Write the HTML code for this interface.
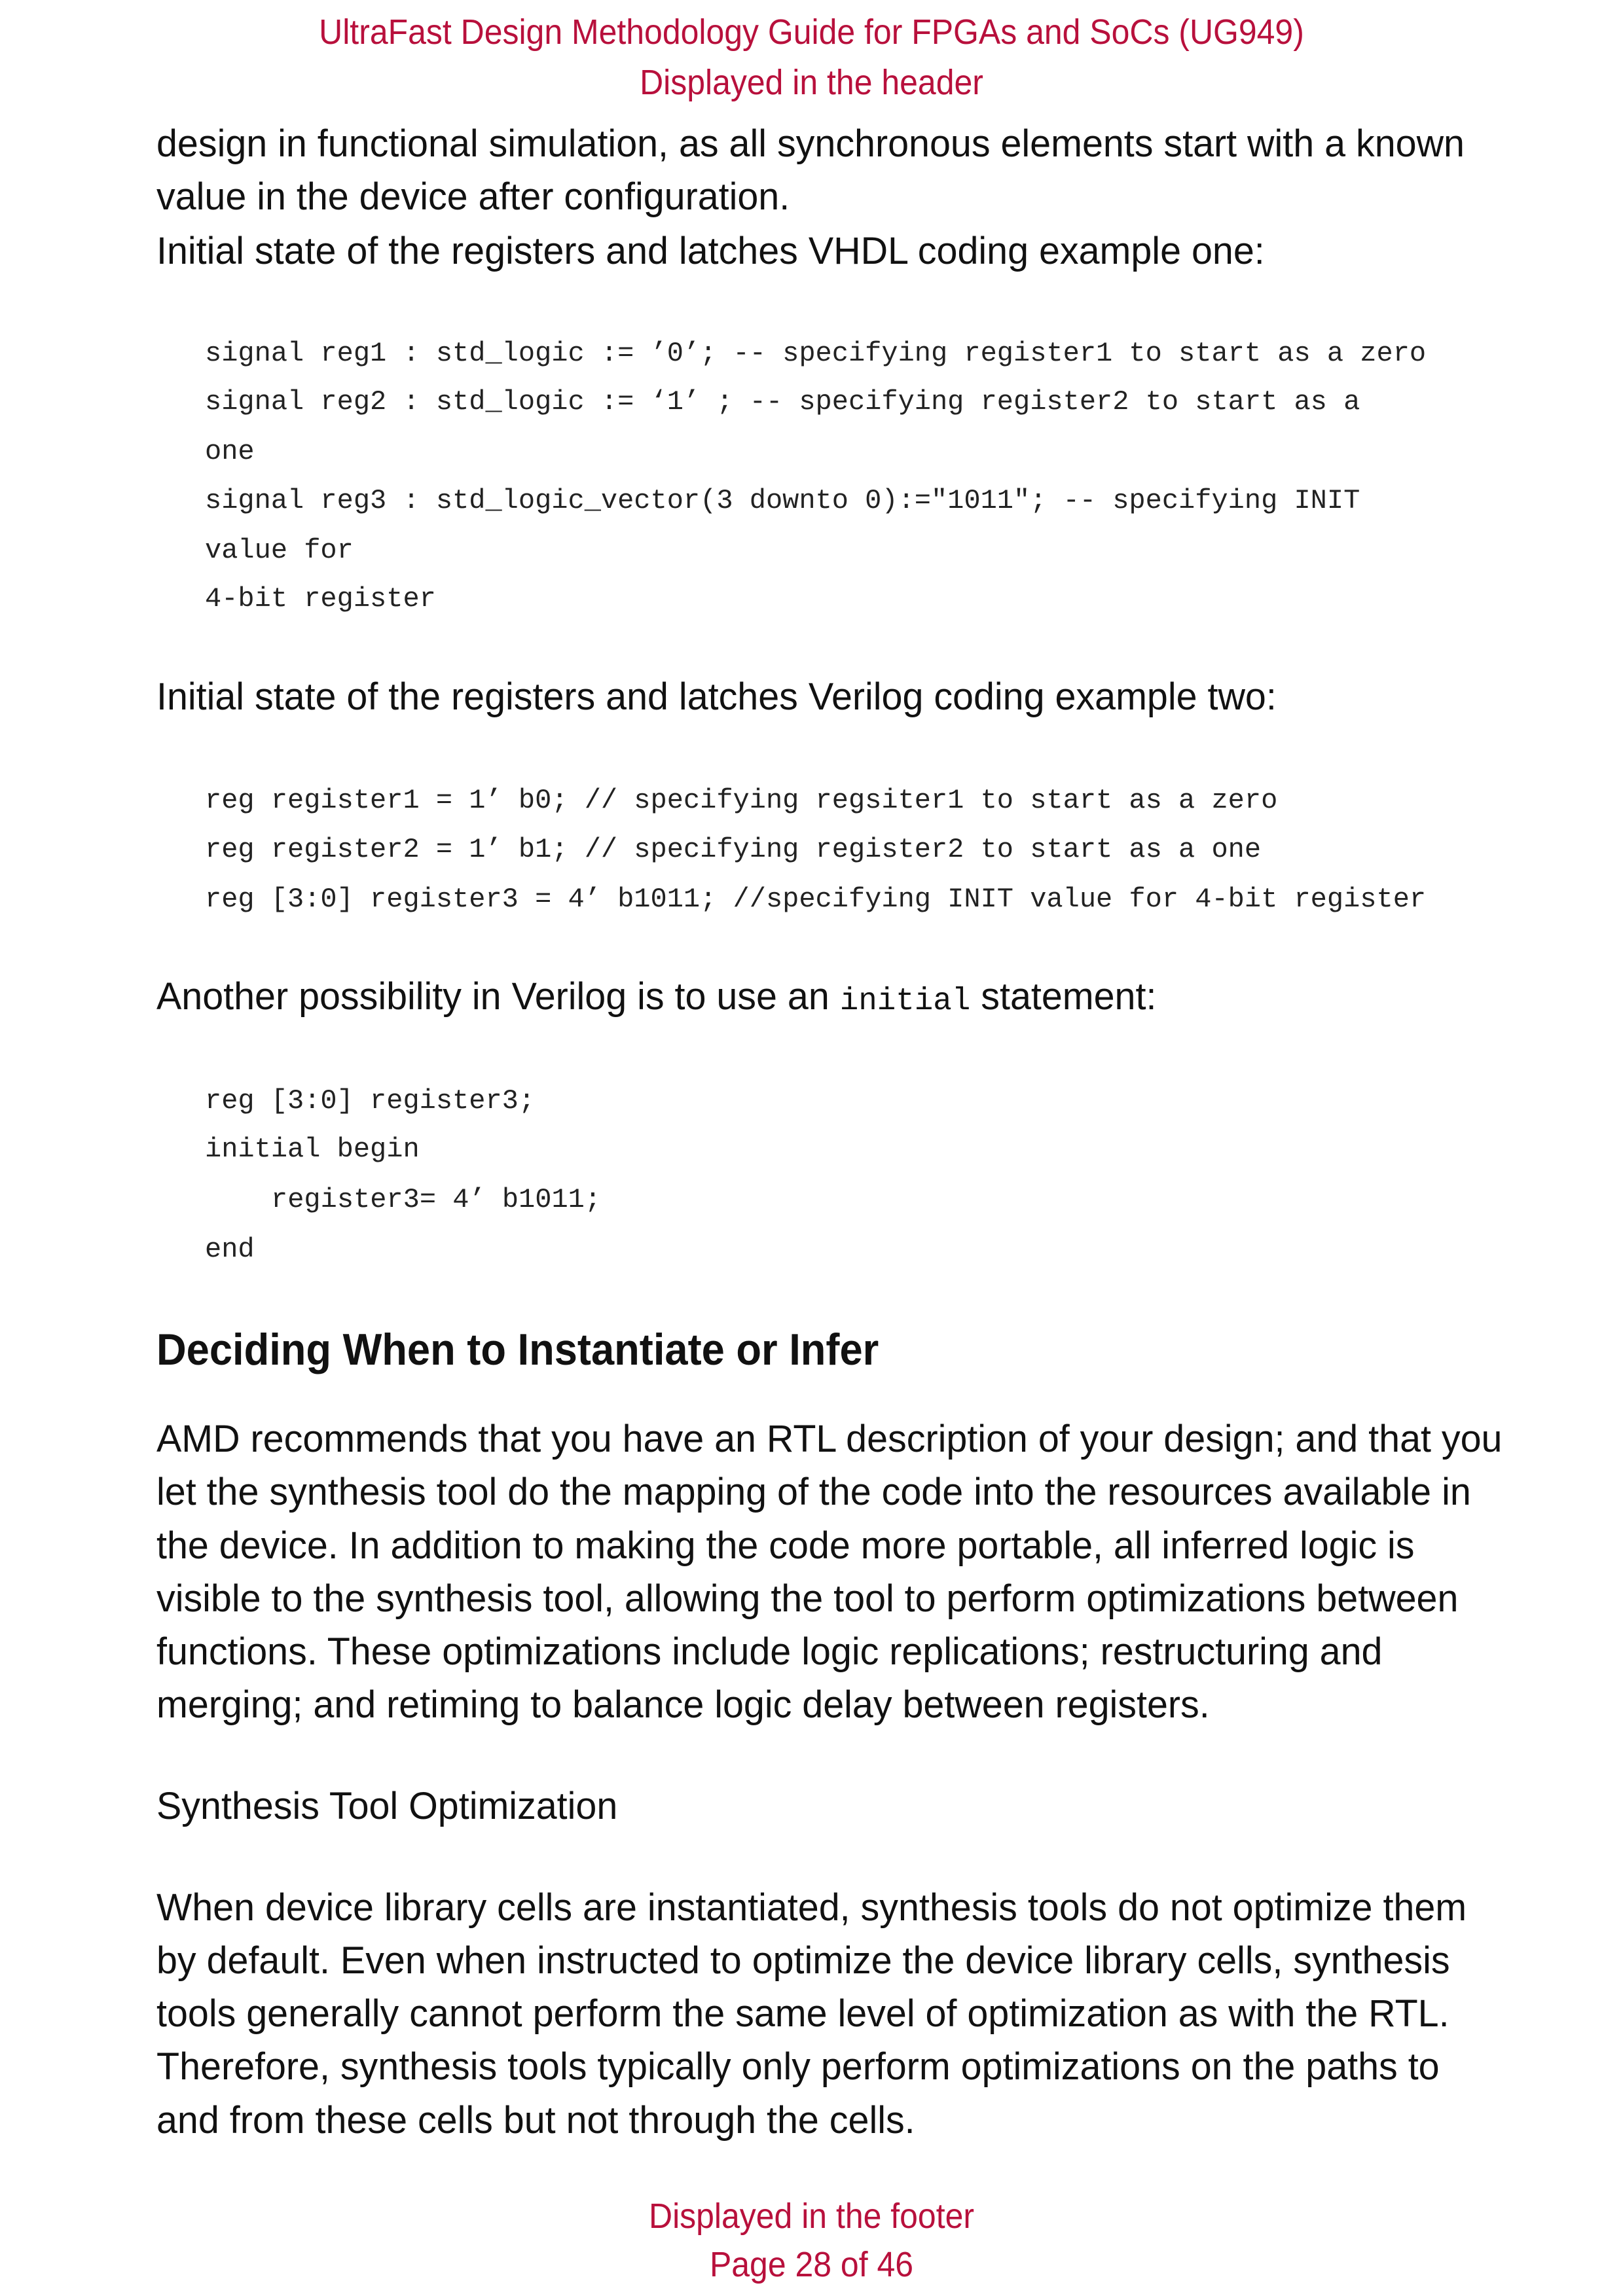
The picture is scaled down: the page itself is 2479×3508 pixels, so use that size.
<!DOCTYPE html>
<html><head><meta charset="utf-8"><style>
html,body{margin:0;padding:0;background:#fff;}
body{width:2479px;height:3508px;position:relative;overflow:hidden;font-family:"Liberation Sans",sans-serif;color:#111;}
.l{position:absolute;left:239px;height:80px;line-height:80px;white-space:nowrap;font-size:58px;transform:scaleX(0.99);transform-origin:left center;}
.c{position:absolute;left:313px;height:70px;line-height:70px;white-space:nowrap;font-family:"Liberation Mono",monospace;font-size:42px;color:#222;}
.r{position:absolute;left:0;width:2479px;text-align:center;height:70px;line-height:70px;white-space:nowrap;font-size:54px;color:#b8103c;transform:scaleX(0.925);}
.h{font-size:68px;font-weight:bold;transform:scaleX(0.93);}
</style></head><body>
<div class="r" style="top:14px">UltraFast Design Methodology Guide for FPGAs and SoCs (UG949)</div>
<div class="r" style="top:91px">Displayed in the header</div>

<div class="l" style="top:180px">design in functional simulation, as all synchronous elements start with a known</div>
<div class="l" style="top:261px">value in the device after configuration.</div>
<div class="l" style="top:344px">Initial state of the registers and latches VHDL coding example one:</div>

<div class="c" style="top:505px">signal reg1 : std_logic := ’0’; -- specifying register1 to start as a zero</div>
<div class="c" style="top:579px">signal reg2 : std_logic :=  ‘1’ ; -- specifying register2 to start as a</div>
<div class="c" style="top:655px">one</div>
<div class="c" style="top:730px">signal reg3 : std_logic_vector(3 downto 0):=″1011″; -- specifying INIT</div>
<div class="c" style="top:806px">value for</div>
<div class="c" style="top:880px">4-bit register</div>

<div class="l" style="top:1025px">Initial state of the registers and latches Verilog coding example two:</div>

<div class="c" style="top:1188px">reg register1 = 1’ b0; // specifying regsiter1 to start as a zero</div>
<div class="c" style="top:1263px">reg register2 = 1’ b1; // specifying register2 to start as a one</div>
<div class="c" style="top:1339px">reg [3:0] register3 = 4’ b1011; //specifying INIT value for 4-bit register</div>

<div class="l" style="top:1483px">Another possibility in Verilog is to use an <span style="font-family:'Liberation Mono',monospace;font-size:48px">initial</span> statement:</div>

<div class="c" style="top:1647px">reg [3:0] register3;</div>
<div class="c" style="top:1721px">initial begin</div>
<div class="c" style="top:1798px;left:414px">register3= 4’ b1011;</div>
<div class="c" style="top:1874px">end</div>

<div class="l h" style="top:2022px">Deciding When to Instantiate or Infer</div>

<div class="l" style="top:2159px">AMD recommends that you have an RTL description of your design; and that you</div>
<div class="l" style="top:2240px">let the synthesis tool do the mapping of the code into the resources available in</div>
<div class="l" style="top:2322px">the device. In addition to making the code more portable, all inferred logic is</div>
<div class="l" style="top:2403px">visible to the synthesis tool, allowing the tool to perform optimizations between</div>
<div class="l" style="top:2484px">functions. These optimizations include logic replications; restructuring and</div>
<div class="l" style="top:2565px">merging; and retiming to balance logic delay between registers.</div>

<div class="l" style="top:2720px">Synthesis Tool Optimization</div>

<div class="l" style="top:2875px">When device library cells are instantiated, synthesis tools do not optimize them</div>
<div class="l" style="top:2956px">by default. Even when instructed to optimize the device library cells, synthesis</div>
<div class="l" style="top:3037px">tools generally cannot perform the same level of optimization as with the RTL.</div>
<div class="l" style="top:3118px">Therefore, synthesis tools typically only perform optimizations on the paths to</div>
<div class="l" style="top:3200px">and from these cells but not through the cells.</div>

<div class="r" style="top:3351px">Displayed in the footer</div>
<div class="r" style="top:3425px">Page 28 of 46</div>
</body></html>
